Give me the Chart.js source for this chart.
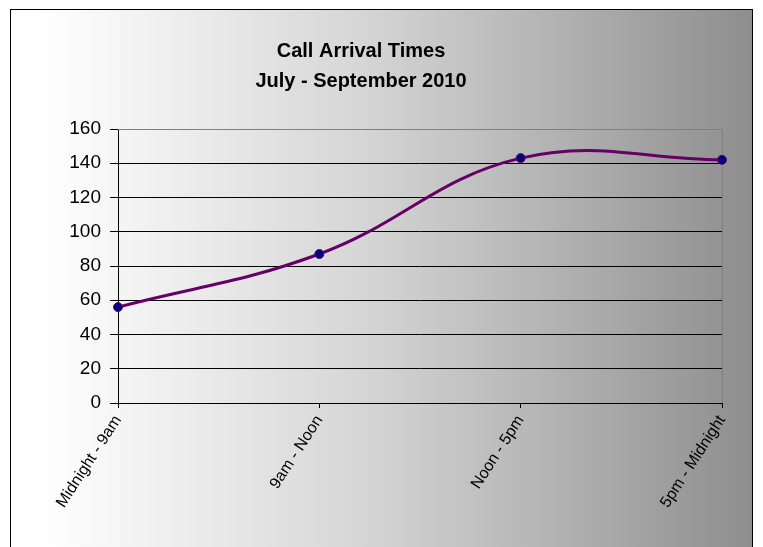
<!DOCTYPE html>
<html>
<head>
<meta charset="utf-8">
<script src="https://cdn.jsdelivr.net/npm/chart.js@4/dist/chart.umd.min.js"></script>
<style>
html,body{margin:0;padding:0;background:#fff;}
#wrap{width:763px;height:547px;position:relative;}
</style>
</head>
<body>
<div id="wrap"><canvas id="c" width="763" height="547"></canvas></div>
<script>
const categories = ["Midnight - 9am", "9am - Noon", "Noon - 5pm", "5pm - Midnight"];
const calls = [56, 87, 143, 142];
const titleLines = ["Call Arrival Times", "July - September 2010"];
const yTicks = [0, 20, 40, 60, 80, 100, 120, 140, 160];

const bgPlugin = {
  id: 'bg',
  beforeDraw(chart) {
    const ctx = chart.ctx;
    const W = chart.width, H = chart.height;
    ctx.save();
    ctx.fillStyle = '#ffffff';
    ctx.fillRect(0, 0, W, H);
    const g = ctx.createLinearGradient(40, 0, 752, 0);
    g.addColorStop(0, '#ffffff');
    g.addColorStop(0.45, '#d6d6d6');
    g.addColorStop(1, '#8e8e8e');
    ctx.fillStyle = g;
    ctx.fillRect(10.5, 9.5, 742, 540);
    ctx.strokeStyle = '#000000';
    ctx.lineWidth = 1;
    ctx.strokeRect(10.5, 9.5, 742, 540);
    ctx.restore();
  },
  beforeDatasetsDraw(chart) {
    const ctx = chart.ctx;
    const a = chart.chartArea;
    ctx.save();
    ctx.strokeStyle = '#808080';
    ctx.lineWidth = 1;
    ctx.beginPath();
    ctx.moveTo(a.left, a.top + 0.5);
    ctx.lineTo(a.right + 0.5, a.top + 0.5);
    ctx.lineTo(a.right + 0.5, a.bottom);
    ctx.stroke();
    ctx.restore();
  }
};

new Chart(document.getElementById('c'), {
  type: 'line',
  data: {
    labels: categories,
    datasets: [{
      data: calls,
      borderColor: '#660066',
      borderWidth: 3,
      tension: 0.4,
      pointRadius: 4.5,
      pointBackgroundColor: '#000080',
      pointBorderColor: '#660066',
      pointBorderWidth: 1,
      fill: false
    }]
  },
  options: {
    responsive: false,
    animation: false,
    devicePixelRatio: 1,
    layout: { padding: { left: 0, right: 41, top: 0, bottom: 0 } },
    plugins: {
      legend: { display: false },
      tooltip: { enabled: false },
      title: {
        display: true,
        text: titleLines,
        color: '#000000',
        font: { family: 'Liberation Sans, Arial, sans-serif', size: 20, weight: 'bold', lineHeight: 1.5 },
        padding: { top: 36, bottom: 33 }
      }
    },
    scales: {
      x: {
        type: 'category',
        offset: false,
        grid: { display: true, drawOnChartArea: false, drawTicks: true, tickLength: 5, color: '#000000' },
        border: { display: true, color: '#000000', width: 1 },
        ticks: {
          color: '#000000',
          font: { family: 'Liberation Sans, Arial, sans-serif', size: 16 },
          minRotation: 57, maxRotation: 57,
          padding: 4,
          autoSkip: false
        },
        afterFit(scale) { scale.height = 144; }
      },
      y: {
        min: 0, max: 160,
        afterBuildTicks(scale) { scale.ticks = yTicks.map(v => ({ value: v })); },
        grid: {
          color: (c) => (c.tick && c.tick.value === 160) ? '#808080' : '#000000',
          lineWidth: 1,
          drawTicks: true,
          tickLength: 8,
          tickColor: '#000000'
        },
        border: { display: true, color: '#000000', width: 1 },
        ticks: {
          color: '#000000',
          font: { family: 'Liberation Sans, Arial, sans-serif', size: 19 },
          padding: 9
        },
        afterFit(scale) { scale.width = 118; }
      }
    }
  },
  plugins: [bgPlugin]
});
</script>
</body>
</html>
